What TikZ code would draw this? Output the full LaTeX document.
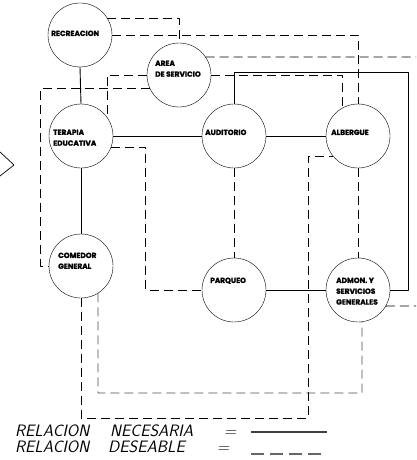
\documentclass[tikz,border=0pt]{standalone}
\usepackage{fontspec}
\newfontfamily\roomfont{Poppins}[BoldFeatures={FakeBold=1.5}]
\begin{document}
\begin{tikzpicture}[x=1pt,y=-1pt,line join=round,
	room/.style={draw,circle,minimum size=64pt,inner sep=0pt},
	rtxt/.style={anchor=north west,inner sep=0pt,align=left,font=\roomfont\bfseries\fontsize{7.4}{10.8}\selectfont},
	nec/.style={line width=0.9pt},
	des/.style={line width=0.8pt,dash pattern=on 9pt off 5pt},
	leyenda/.style={anchor=base west,inner sep=0pt,font=\sffamily\itshape\fontsize{16.5}{17}\selectfont}]
	\useasboundingbox (0,0) rectangle (416,460);
	\draw[line width=0.7pt] (0,152) -- (14,165) -- (0,176);
	\node[room] (rec) at (80,35) {};
	\node[room] (area) at (179,75) {};
	\node[room] (ter) at (81,136) {};
	\node[room] (aud) at (234,136) {};
	\node[room] (alb) at (358,136) {};
	\node[room] (com) at (81,266) {};
	\node[room] (par) at (234,290) {};
	\node[room] (adm) at (358,290) {};
	\node[rtxt] (rec-t) at (51,30.5) {RECREACION};
	\node[rtxt] (area-t) at (155,60.5) {AREA\\DE SERVICIO};
	\node[rtxt] (ter-t) at (53,129.5) {TERAPIA\\EDUCATIVA};
	\node[rtxt] (aud-t) at (205,129.5) {AUDITORIO};
	\node[rtxt] (alb-t) at (331,129.5) {ALBERGUE};
	\node[rtxt] (com-t) at (58,252.5) {COMEDOR\\GENERAL};
	\node[rtxt] (par-t) at (210,277.5) {PARQUEO};
	\node[rtxt] (adm-t) at (336,277.5) {ADMON. Y\\SERVICIOS\\GENERALES};
	\coordinate (esq) at (408,72);
	\coordinate (offA) at (416,57);
	\coordinate (offB) at (416,306);
	\coordinate (s1) at (308,418);
	\coordinate (s2) at (362,393);
	\draw[nec] (rec.south) -- (ter.north);
	\draw[nec] (ter.south) -- (com.north);
	\draw[nec] (ter.east) -- (aud.west);
	\draw[nec] (aud.east) -- (alb.west);
	\draw[nec] (par.east) -- (adm.west);
	\draw[nec] (aud.north) |- (esq) |- (adm.east);
	\draw[des] (rec.32) -| (area.north);
	\draw[des] (rec.east) -| (alb.north);
	\draw[des] (area.34) -- (offA);
	\draw[des] (area.west) -| (ter.36);
	\draw[des] (area.204) -| ([xshift=-8pt]com.west) -- (com.west);
	\draw[des] (area.east) -| (alb.118);
	\draw[des] (ter.-20) -| ([xshift=-56pt]par.west) -- (par.west);
	\draw[des] (aud.south) -- (par.north);
	\draw[des] (alb.south) -- (adm.north);
	\draw[des] (com.south) |- (s1) |- (alb.219);
	\draw[des,black!70] (com.-58) |- (s2) -- (adm.-83);
	\draw[des] (adm.-30) -- (offB);
	\node[leyenda] (r1) at (15,436) {RELACION};
	\node[leyenda] (n1) at (110,436) {NECESARIA};
	\node[leyenda] (e1) at (224,436) {=};
	\node[leyenda] (r2) at (15,452) {RELACION};
	\node[leyenda] (n2) at (108,452) {DESEABLE};
	\node[leyenda] (e2) at (217,452) {=};
	\coordinate (l1a) at (251,432);
	\coordinate (l1b) at (327,432);
	\coordinate (l2a) at (251,454);
	\coordinate (l2b) at (321,454);
	\draw[line width=1.6pt,black!75] (l1a) -- (l1b);
	\draw[line width=1.4pt,black!60,dash pattern=on 13pt off 6pt] (l2a) -- (l2b);
\end{tikzpicture}
\end{document}
